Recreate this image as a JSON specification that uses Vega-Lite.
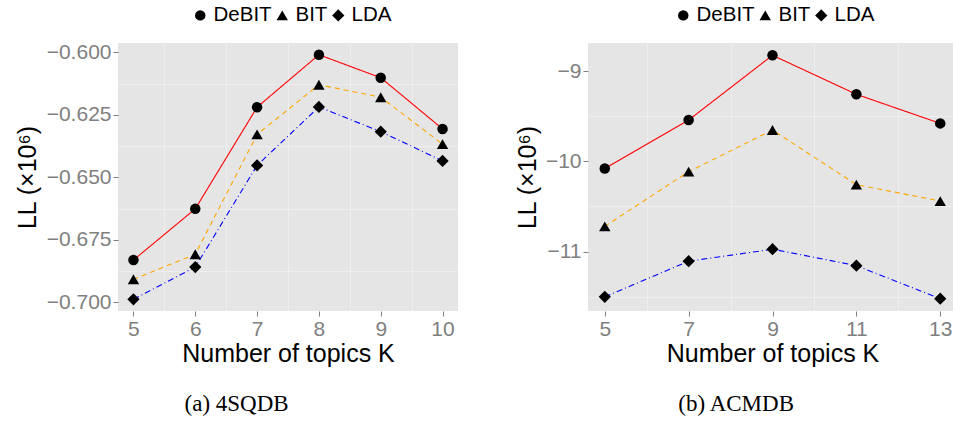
{
  "$schema": "https://vega.github.io/schema/vega-lite/v6.json",
  "padding": {"left": 15, "top": 5, "right": 0, "bottom": 2},
  "spacing": 57,
  "resolve": {"legend": {"shape": "independent", "size": "independent"}, "scale": {"shape": "independent", "size": "independent"}},
  "config": {
    "font": "Liberation Sans",
    "view": {"fill": "#e5e5e5", "stroke": null},
    "axis": {
      "labelColor": "#7f7f7f", "labelFontSize": 21, "labelFont": "Liberation Sans",
      "tickColor": "#7f7f7f", "tickSize": 5, "domain": false,
      "gridColor": "#ffffff", "gridWidth": 1.3,
      "titleFontSize": 25, "titleFont": "Liberation Sans", "titleFontWeight": "normal", "titleColor": "#000000"
    },
    "title": {"font": "Liberation Serif", "fontSize": 23, "fontWeight": "normal", "color": "#000000", "orient": "bottom", "frame": "bounds", "anchor": "middle"}
  },
  "datasets": {
    "a": [
      {"K": 5, "method": "DeBIT", "LL": -0.6831}, {"K": 6, "method": "DeBIT", "LL": -0.6626}, {"K": 7, "method": "DeBIT", "LL": -0.6219},
      {"K": 8, "method": "DeBIT", "LL": -0.6009}, {"K": 9, "method": "DeBIT", "LL": -0.6101}, {"K": 10, "method": "DeBIT", "LL": -0.6306},
      {"K": 5, "method": "BIT", "LL": -0.6908}, {"K": 6, "method": "BIT", "LL": -0.6808}, {"K": 7, "method": "BIT", "LL": -0.6328},
      {"K": 8, "method": "BIT", "LL": -0.6129}, {"K": 9, "method": "BIT", "LL": -0.6179}, {"K": 10, "method": "BIT", "LL": -0.6367},
      {"K": 5, "method": "LDA", "LL": -0.6988}, {"K": 6, "method": "LDA", "LL": -0.6859}, {"K": 7, "method": "LDA", "LL": -0.6452},
      {"K": 8, "method": "LDA", "LL": -0.6218}, {"K": 9, "method": "LDA", "LL": -0.6317}, {"K": 10, "method": "LDA", "LL": -0.6434}
    ],
    "b": [
      {"K": 5, "method": "DeBIT", "LL": -10.08}, {"K": 7, "method": "DeBIT", "LL": -9.543}, {"K": 9, "method": "DeBIT", "LL": -8.826},
      {"K": 11, "method": "DeBIT", "LL": -9.258}, {"K": 13, "method": "DeBIT", "LL": -9.58},
      {"K": 5, "method": "BIT", "LL": -10.72}, {"K": 7, "method": "BIT", "LL": -10.114}, {"K": 9, "method": "BIT", "LL": -9.653},
      {"K": 11, "method": "BIT", "LL": -10.258}, {"K": 13, "method": "BIT", "LL": -10.44},
      {"K": 5, "method": "LDA", "LL": -11.5}, {"K": 7, "method": "LDA", "LL": -11.106}, {"K": 9, "method": "LDA", "LL": -10.973},
      {"K": 11, "method": "LDA", "LL": -11.155}, {"K": 13, "method": "LDA", "LL": -11.52}
    ]
  },
  "hconcat": [
    {
      "width": 340, "height": 268,
      "data": {"name": "a"},
      "title": {"text": "(a) 4SQDB", "offset": 27},
      "resolve": {"axis": {"x": "independent", "y": "independent"}},
      "layer": [
        {
          "mark": {"type": "point", "opacity": 0},
          "encoding": {
            "x": {"field": "K", "type": "quantitative", "scale": {"domain": [4.75, 10.25], "nice": false, "zero": false},
                  "axis": {"orient": "bottom", "values": [5.5, 6.5, 7.5, 8.5, 9.5], "labels": false, "ticks": false, "title": null, "gridColor": "#f2f2f2", "gridWidth": 0.7}},
            "y": {"field": "LL", "type": "quantitative", "scale": {"domain": [-0.7035, -0.5962], "nice": false, "zero": false},
                  "axis": {"orient": "left", "values": [-0.6875, -0.6625, -0.6375, -0.6125], "labels": false, "ticks": false, "title": null, "gridColor": "#f2f2f2", "gridWidth": 0.7}}
          }
        },
        {
          "mark": {"type": "line", "strokeWidth": 1.1},
          "encoding": {
            "x": {"field": "K", "type": "quantitative", "axis": {"orient": "bottom", "values": [5, 6, 7, 8, 9, 10], "format": "d", "title": "Number of topics K", "titlePadding": 2}},
            "y": {"field": "LL", "type": "quantitative", "axis": {"orient": "left", "values": [-0.7, -0.675, -0.65, -0.625, -0.6], "format": ".3f", "title": "LL (×10⁶)", "titlePadding": 6}},
            "color": {"field": "method", "type": "nominal", "scale": {"domain": ["DeBIT", "BIT", "LDA"], "range": ["#ff0000", "#ffa500", "#0000ff"]}, "legend": null},
            "strokeDash": {"field": "method", "type": "nominal", "scale": {"domain": ["DeBIT", "BIT", "LDA"], "range": [[1, 0], [5, 4], [6, 3, 1, 3]]}, "legend": null}
          }
        },
        {
          "mark": {"type": "point", "filled": true, "color": "#000000", "opacity": 1},
          "encoding": {
            "x": {"field": "K", "type": "quantitative", "axis": null},
            "y": {"field": "LL", "type": "quantitative", "axis": null},
            "shape": {"field": "method", "type": "nominal", "scale": {"domain": ["DeBIT", "BIT", "LDA"], "range": ["circle", "triangle-up", "diamond"]},
                      "legend": {"title": null, "orient": "none", "legendX": 72, "legendY": -38, "direction": "horizontal", "labelFontSize": 20.5, "labelFont": "Liberation Sans", "labelColor": "#000000", "symbolFillColor": "#000000", "symbolStrokeColor": "#000000", "columnPadding": 0, "labelOffset": 3}},
            "size": {"field": "method", "type": "nominal", "scale": {"domain": ["DeBIT", "BIT", "LDA"], "range": [110, 150, 60]},
                      "legend": {"title": null, "orient": "none", "legendX": 72, "legendY": -38, "direction": "horizontal", "labelFontSize": 20.5, "labelFont": "Liberation Sans", "labelColor": "#000000", "symbolFillColor": "#000000", "symbolStrokeColor": "#000000", "columnPadding": 0, "labelOffset": 3}}
          }
        }
      ]
    },
    {
      "width": 369, "height": 268,
      "data": {"name": "b"},
      "title": {"text": "(b) ACMDB", "offset": 27},
      "resolve": {"axis": {"x": "independent", "y": "independent"}},
      "layer": [
        {
          "mark": {"type": "point", "opacity": 0},
          "encoding": {
            "x": {"field": "K", "type": "quantitative", "scale": {"domain": [4.6, 13.4], "nice": false, "zero": false},
                  "axis": {"orient": "bottom", "values": [6, 8, 10, 12], "labels": false, "ticks": false, "title": null, "gridColor": "#f2f2f2", "gridWidth": 0.7}},
            "y": {"field": "LL", "type": "quantitative", "scale": {"domain": [-11.657, -8.69], "nice": false, "zero": false},
                  "axis": {"orient": "left", "values": [-11.5, -10.5, -9.5], "labels": false, "ticks": false, "title": null, "gridColor": "#f2f2f2", "gridWidth": 0.7}}
          }
        },
        {
          "mark": {"type": "line", "strokeWidth": 1.1},
          "encoding": {
            "x": {"field": "K", "type": "quantitative", "axis": {"orient": "bottom", "values": [5, 7, 9, 11, 13], "format": "d", "title": "Number of topics K", "titlePadding": 2}},
            "y": {"field": "LL", "type": "quantitative", "axis": {"orient": "left", "values": [-11, -10, -9], "format": "d", "title": "LL (×10⁶)", "titlePadding": 5}},
            "color": {"field": "method", "type": "nominal", "scale": {"domain": ["DeBIT", "BIT", "LDA"], "range": ["#ff0000", "#ffa500", "#0000ff"]}, "legend": null},
            "strokeDash": {"field": "method", "type": "nominal", "scale": {"domain": ["DeBIT", "BIT", "LDA"], "range": [[1, 0], [5, 4], [6, 3, 1, 3]]}, "legend": null}
          }
        },
        {
          "mark": {"type": "point", "filled": true, "color": "#000000", "opacity": 1},
          "encoding": {
            "x": {"field": "K", "type": "quantitative", "axis": null},
            "y": {"field": "LL", "type": "quantitative", "axis": null},
            "shape": {"field": "method", "type": "nominal", "scale": {"domain": ["DeBIT", "BIT", "LDA"], "range": ["circle", "triangle-up", "diamond"]},
                      "legend": {"title": null, "orient": "none", "legendX": 85, "legendY": -38, "direction": "horizontal", "labelFontSize": 20.5, "labelFont": "Liberation Sans", "labelColor": "#000000", "symbolFillColor": "#000000", "symbolStrokeColor": "#000000", "columnPadding": 0, "labelOffset": 3}},
            "size": {"field": "method", "type": "nominal", "scale": {"domain": ["DeBIT", "BIT", "LDA"], "range": [110, 150, 60]},
                      "legend": {"title": null, "orient": "none", "legendX": 85, "legendY": -38, "direction": "horizontal", "labelFontSize": 20.5, "labelFont": "Liberation Sans", "labelColor": "#000000", "symbolFillColor": "#000000", "symbolStrokeColor": "#000000", "columnPadding": 0, "labelOffset": 3}}
          }
        }
      ]
    }
  ]
}
